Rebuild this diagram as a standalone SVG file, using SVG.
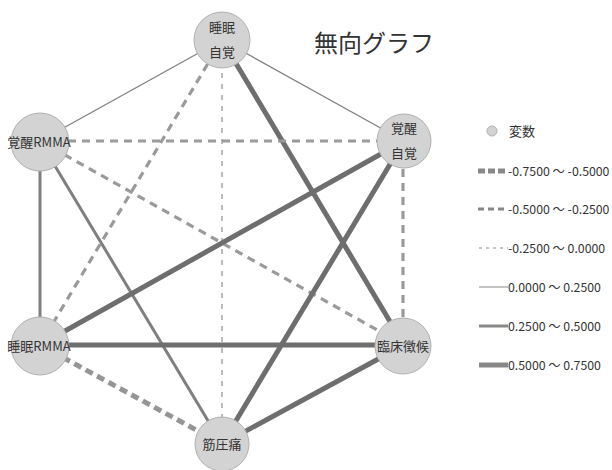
<svg xmlns="http://www.w3.org/2000/svg" width="612" height="470" viewBox="0 0 612 470">
<style>
text{font-family:"Noto Sans CJK JP","Noto Sans",sans-serif;fill:#333}
.n circle{fill:#d3d3d3;stroke:#b0b0b0;stroke-width:1}
.nl{font-size:13px;text-anchor:middle}
.lg{font-size:12.3px}
.s1{stroke:#808080;stroke-width:1.3;fill:none}
.s2{stroke:#7f7f7f;stroke-width:3;fill:none}
.s3{stroke:#6e6e6e;stroke-width:5;fill:none}
.d1{stroke:#a6a6a6;stroke-width:1.5;stroke-dasharray:5 6;fill:none}
.d2{stroke:#9a9a9a;stroke-width:3.2;stroke-dasharray:8 6;fill:none}
.d3{stroke:#959595;stroke-width:5;stroke-dasharray:8 5;fill:none}
</style>
<g id="edges">
<line class="s1" x1="222" y1="40" x2="404" y2="141"/>
<line class="s1" x1="222" y1="40" x2="40" y2="141"/>
<line class="s3" x1="222" y1="40" x2="404" y2="345"/>
<line class="d1" x1="222" y1="40" x2="222" y2="444"/>
<line class="d2" x1="222" y1="40" x2="40" y2="345"/>
<line class="d2" x1="40" y1="141" x2="404" y2="141"/>
<line class="d2" x1="40" y1="141" x2="404" y2="345"/>
<line class="s2" x1="40" y1="141" x2="40" y2="345"/>
<line class="s2" x1="40" y1="141" x2="222" y2="444"/>
<line class="s3" x1="404" y1="141" x2="40" y2="345"/>
<line class="s3" x1="404" y1="141" x2="222" y2="444"/>
<line class="d2" x1="403" y1="141" x2="403" y2="345"/>
<line class="s3" x1="40" y1="345" x2="404" y2="345"/>
<line class="d3" x1="40" y1="345" x2="222" y2="444"/>
<line class="s3" x1="404" y1="345" x2="222" y2="444"/>
</g>
<g id="n-suimin-jikaku" class="n"><circle cx="222" cy="40" r="28"/><text class="nl" x="222" y="32">睡眠</text><text class="nl" x="222" y="57">自覚</text></g>
<g id="n-kakusei-jikaku" class="n"><circle cx="404" cy="141" r="27"/><text class="nl" x="404" y="133">覚醒</text><text class="nl" x="404" y="158">自覚</text></g>
<g id="n-kakusei-rmma" class="n"><circle cx="40" cy="142" r="29"/><text class="nl" x="39" y="147">覚醒RMMA</text></g>
<g id="n-suimin-rmma" class="n"><circle cx="40" cy="346" r="29"/><text class="nl" x="39" y="351">睡眠RMMA</text></g>
<g id="n-rinsho" class="n"><circle cx="403" cy="346" r="28"/><text class="nl" x="403" y="351">臨床徴候</text></g>
<g id="n-kinatsu" class="n"><circle cx="222" cy="444" r="27"/><text class="nl" x="222" y="449">筋圧痛</text></g>
<text x="314" y="52" style="font-size:24px">無向グラフ</text>
<g id="legend">
<circle cx="492" cy="131" r="5" fill="#d3d3d3" stroke="#b0b0b0"/>
<text x="509" y="136" style="font-size:13px">変数</text>
<line x1="478" y1="171" x2="508" y2="171" stroke="#888" stroke-width="5" stroke-dasharray="7 3"/>
<text class="lg" x="508" y="175.5">-0.7500 〜 -0.5000</text>
<line x1="478" y1="209" x2="508" y2="209" stroke="#888" stroke-width="3" stroke-dasharray="6 4"/>
<text class="lg" x="508" y="213.5">-0.5000 〜 -0.2500</text>
<line x1="479" y1="248" x2="508" y2="248" stroke="#888" stroke-width="1" stroke-dasharray="3 4"/>
<text class="lg" x="508" y="252.5">-0.2500 〜 0.0000</text>
<line x1="479" y1="287" x2="508" y2="287" stroke="#888" stroke-width="1"/>
<text class="lg" x="508" y="291.5">0.0000 〜 0.2500</text>
<line x1="479" y1="326" x2="508" y2="326" stroke="#888" stroke-width="3"/>
<text class="lg" x="508" y="330.5">0.2500 〜 0.5000</text>
<line x1="479" y1="365" x2="508" y2="365" stroke="#888" stroke-width="5"/>
<text class="lg" x="508" y="369.5">0.5000 〜 0.7500</text>
</g>
</svg>
